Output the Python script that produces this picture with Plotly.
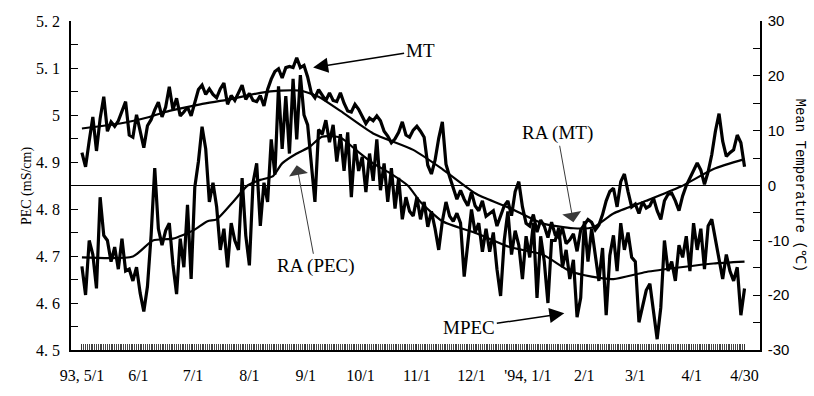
import pandas as pd
import plotly.graph_objects as go

# ---- data -------------------------------------------------------------
start_date = "1993-05-01"

# daily mean temperature (deg C), sampled every 2 days from 1993-05-01
mt_values = [
    6.0, 3.4, 8.1, 12.5, 6.3, 12.2, 16.2, 9.9, 11.6, 10.8,
    11.8, 13.4, 15.3, 9.2, 8.8, 12.9, 10.1, 6.9, 10.9, 12.0,
    13.8, 15.2, 12.5, 14.3, 18.0, 13.8, 15.9, 12.7, 13.4, 14.3,
    12.7, 15.2, 17.5, 18.3, 16.6, 17.6, 16.6, 16.0, 17.6, 18.7,
    14.8, 16.4, 15.5, 16.9, 18.3, 15.7, 16.8, 15.5, 15.3, 16.4,
    14.5, 17.5, 19.4, 20.8, 21.3, 19.6, 21.5, 21.7, 21.5, 23.3,
    21.5, 21.9, 19.8, 16.9, 16.0, 17.5, 16.6, 15.5, 16.9, 15.5,
    15.3, 16.9, 15.0, 13.6, 13.4, 14.8, 13.9, 12.5, 11.3, 12.3,
    11.8, 12.7, 11.8, 9.9, 9.0, 7.8, 8.5, 9.7, 11.6, 9.2,
    8.8, 10.1, 10.8, 9.9, 8.8, 3.7, 2.1, 4.6, 8.6, 11.6,
    3.9, 1.6, -0.4, -2.5, -0.9, -2.5, -3.7, -1.2, -3.7, -4.6,
    -2.8, -5.6, -5.1, -4.6, -7.4, -5.6, -3.7, -2.8, -5.5, -1.1,
    0.7, -3.9, -6.9, -7.4, -5.3, -8.5, -6.3, -7.4, -9.5, -6.7,
    -9.0, -9.5, -7.8, -10.6, -9.9, -8.8, -12.0, -8.1, -7.2, -6.2,
    -6.7, -8.1, -7.2, -5.3, -2.8, -1.1, -0.5, -3.9, 0.7, 2.1,
    -1.1, -3.9, -3.4, -5.1, -3.0, -4.1, -3.7, -2.3, -4.6, -6.2,
    -2.8, -1.6, -1.4, -2.8, -4.6, -1.9, 0.0, 1.4, 3.0, 4.1,
    2.8, 0.2, 2.5, 5.6, 9.9, 13.1, 8.1, 5.3, 6.0, 6.5,
    9.2, 7.8, 3.4,
]

# measured PEC (mS/cm), same 2-day sampling
mpec_values = [
    4.678, 4.617, 4.733, 4.703, 4.631, 4.825, 4.744, 4.733, 4.688, 4.719,
    4.672, 4.737, 4.668, 4.672, 4.647, 4.676, 4.621, 4.582, 4.635, 4.744,
    4.887, 4.758, 4.723, 4.754, 4.770, 4.682, 4.619, 4.737, 4.676, 4.809,
    4.651, 4.846, 4.901, 4.975, 4.928, 4.815, 4.856, 4.805, 4.713, 4.758,
    4.676, 4.770, 4.733, 4.713, 4.866, 4.744, 4.680, 4.856, 4.897, 4.764,
    4.856, 4.815, 4.948, 4.873, 5.061, 4.928, 5.040, 4.918, 5.077, 4.948,
    5.085, 5.000, 4.979, 4.901, 4.815, 4.969, 4.959, 4.989, 4.942, 4.979,
    4.901, 4.959, 4.881, 4.963, 4.825, 4.938, 4.881, 4.911, 4.836, 4.918,
    4.860, 4.948, 4.840, 4.897, 4.815, 4.887, 4.801, 4.866, 4.778, 4.825,
    4.795, 4.785, 4.825, 4.778, 4.815, 4.762, 4.795, 4.758, 4.713, 4.774,
    4.815, 4.785, 4.774, 4.791, 4.770, 4.656, 4.733, 4.799, 4.750, 4.770,
    4.709, 4.758, 4.709, 4.750, 4.672, 4.615, 4.733, 4.795, 4.703, 4.754,
    4.723, 4.651, 4.742, 4.697, 4.770, 4.611, 4.742, 4.688, 4.600, 4.733,
    4.733, 4.760, 4.676, 4.713, 4.651, 4.692, 4.570, 4.611, 4.774, 4.688,
    4.758, 4.703, 4.647, 4.717, 4.574, 4.701, 4.744, 4.668, 4.770, 4.713,
    4.750, 4.697, 4.688, 4.559, 4.594, 4.627, 4.641, 4.580, 4.523, 4.590,
    4.733, 4.668, 4.688, 4.647, 4.723, 4.697, 4.742, 4.668, 4.770, 4.713,
    4.758, 4.672, 4.764, 4.778, 4.733, 4.688, 4.651, 4.703, 4.668, 4.647,
    4.676, 4.574, 4.631,
]

# running averages, given at day offsets from 1993-05-01
ra_mt_day = [0, 21, 37, 48, 65, 81, 98, 109, 120, 130, 142, 160,
             182, 198, 217, 235, 253, 270, 281, 292, 310, 329, 347, 364]
ra_mt = [10.4, 11.3, 12.5, 13.6, 14.8, 15.7, 16.9, 17.3, 17.3, 16.2, 13.6, 9.5,
         6.5, 3.0, -1.6, -4.1, -6.9, -7.8, -7.6, -5.1, -2.8, -0.2, 3.0, 4.8]

ra_pec_day = [0, 28, 39, 50, 61, 69, 74, 83, 91, 98, 105, 110, 118, 125, 132, 142,
              151, 160, 169, 179, 186, 198, 217, 235, 253, 268, 280, 292, 310, 329, 347, 364]
ra_pec = [4.697, 4.699, 4.733, 4.737, 4.754, 4.774, 4.778, 4.815, 4.850, 4.862, 4.870,
          4.897, 4.918, 4.932, 4.954, 4.952, 4.924, 4.897, 4.877, 4.850, 4.815, 4.774,
          4.748, 4.719, 4.703, 4.668, 4.656, 4.651, 4.666, 4.676, 4.684, 4.688]

# x-axis labels
x_tick_dates = ["1993-05-01", "1993-06-01", "1993-07-01", "1993-08-01", "1993-09-01",
                "1993-10-01", "1993-11-01", "1993-12-01", "1994-01-01", "1994-02-01",
                "1994-03-01", "1994-04-01", "1994-04-30"]
x_tick_text = ["93, 5/1", "6/1", "7/1", "8/1", "9/1", "10/1", "11/1", "12/1",
               "'94, 1/1", "2/1", "3/1", "4/1", "4/30"]

pec_ticks = [4.5, 4.6, 4.7, 4.8, 4.9, 5.0, 5.1, 5.2]
pec_tick_text = ["4. 5", "4. 6", "4. 7", "4. 8", "4. 9", "5", "5. 1", "5. 2"]
temp_ticks = [-30, -20, -10, 0, 10, 20, 30]
temp_tick_text = ["-30", "-20", "-10", "0", "10", "20", "30"]

# ---- figure -----------------------------------------------------------
t0 = pd.Timestamp(start_date)
sample_dates = pd.date_range(t0, periods=len(mt_values), freq="2D")
ra_mt_dates = [t0 + pd.Timedelta(days=d) for d in ra_mt_day]
ra_pec_dates = [t0 + pd.Timedelta(days=d) for d in ra_pec_day]
daily_dates = pd.date_range(t0, "1994-04-30", freq="D")

fig = go.Figure()
fig.add_trace(go.Scatter(x=sample_dates, y=mpec_values, mode="lines", name="MPEC",
                         line=dict(color="black", width=3.2)))
fig.add_trace(go.Scatter(x=ra_pec_dates, y=ra_pec, mode="lines", name="RA(PEC)",
                         line=dict(color="black", width=2.2, shape="spline", smoothing=0.6)))
fig.add_trace(go.Scatter(x=sample_dates, y=mt_values, mode="lines", name="MT", yaxis="y2",
                         line=dict(color="black", width=3.2)))
fig.add_trace(go.Scatter(x=ra_mt_dates, y=ra_mt, mode="lines", name="RA(MT)", yaxis="y2",
                         line=dict(color="black", width=2.2, shape="spline", smoothing=0.6)))

# reference level (4.85 mS/cm = 0 deg C)
fig.add_shape(type="line", xref="paper", x0=0, x1=1, yref="y", y0=4.85, y1=4.85,
              line=dict(color="black", width=1.2))

serif = "Liberation Serif"
label_font = dict(family=serif, size=19, color="black")

ann = []
ann.append(dict(x="1993-09-05", y=21.5, xref="x", yref="y2", ax=107, ay=-17,
                text="MT", showarrow=True, arrowhead=2, arrowsize=2.0, arrowwidth=1.5,
                arrowcolor="black", font=label_font))
ann.append(dict(x="1994-01-26", y=-6.7, xref="x", yref="y2", ax=-16, ay=-89,
                text="RA (MT)", showarrow=True, arrowhead=1, arrowsize=3.2, arrowwidth=1,
                arrowcolor="#3a3a3a", font=label_font))
ann.append(dict(x="1993-08-27", y=4.893, xref="x", yref="y", ax=19, ay=101,
                text="RA (PEC)", showarrow=True, arrowhead=1, arrowsize=3.2, arrowwidth=1,
                arrowcolor="#3a3a3a", font=label_font))
ann.append(dict(x="1994-01-21", y=4.578, xref="x", yref="y", ax=-95, ay=14,
                text="MPEC", showarrow=True, arrowhead=2, arrowsize=2.0, arrowwidth=1.5,
                arrowcolor="black", font=label_font))
ann.append(dict(x=-0.079, y=0.5, xref="paper", yref="paper", text="PEC (mS/cm)",
                textangle=-90, showarrow=False, font=dict(family=serif, size=14, color="black")))
ann.append(dict(x=1.074, y=0.5, xref="paper", yref="paper", text="Mean Temperature (℃)",
                textangle=90, showarrow=False,
                font=dict(family="Liberation Mono", size=14, color="black")))

fig.update_layout(
    width=814, height=396,
    margin=dict(l=71, r=54, t=13, b=41),
    paper_bgcolor="white", plot_bgcolor="white",
    showlegend=False,
    annotations=ann,
    xaxis=dict(
        type="date", range=["1993-04-25", "1994-05-08 12:00"],
        tickmode="array", tickvals=x_tick_dates, ticktext=x_tick_text,
        ticks="inside", ticklen=6, tickwidth=1, tickcolor="#333",
        ticklabelstandoff=10,
        tickfont=dict(family=serif, size=16, color="black"),
        showline=True, linecolor="black", linewidth=1.5,
        showgrid=False, zeroline=False,
        minor=dict(tickmode="array", tickvals=daily_dates,
                   ticks="inside", ticklen=6, tickwidth=1, tickcolor="#444", showgrid=False),
    ),
    yaxis=dict(
        range=[4.5, 5.2], tickmode="array", tickvals=pec_ticks, ticktext=pec_tick_text,
        ticks="inside", ticklen=7, tickwidth=1, tickcolor="black",
        ticklabelstandoff=6,
        tickfont=dict(family=serif, size=16, color="black"),
        showline=True, linecolor="black", linewidth=1.5,
        showgrid=False, zeroline=False,
        minor=dict(tickmode="linear", tick0=4.5, dtick=0.05, ticks="inside",
                   ticklen=7, tickwidth=1, tickcolor="black", showgrid=False),
    ),
    yaxis2=dict(
        overlaying="y", side="right", range=[-30, 30],
        tickmode="array", tickvals=temp_ticks, ticktext=temp_tick_text,
        ticks="inside", ticklen=7, tickwidth=1, tickcolor="black",
        ticklabelstandoff=3,
        tickfont=dict(family="Liberation Sans", size=15, color="black"),
        showline=True, linecolor="black", linewidth=1.5,
        showgrid=False, zeroline=False,
        minor=dict(tickmode="linear", tick0=-30, dtick=5, ticks="inside",
                   ticklen=7, tickwidth=1, tickcolor="black", showgrid=False),
    ),
)

fig.write_html("out.html")
